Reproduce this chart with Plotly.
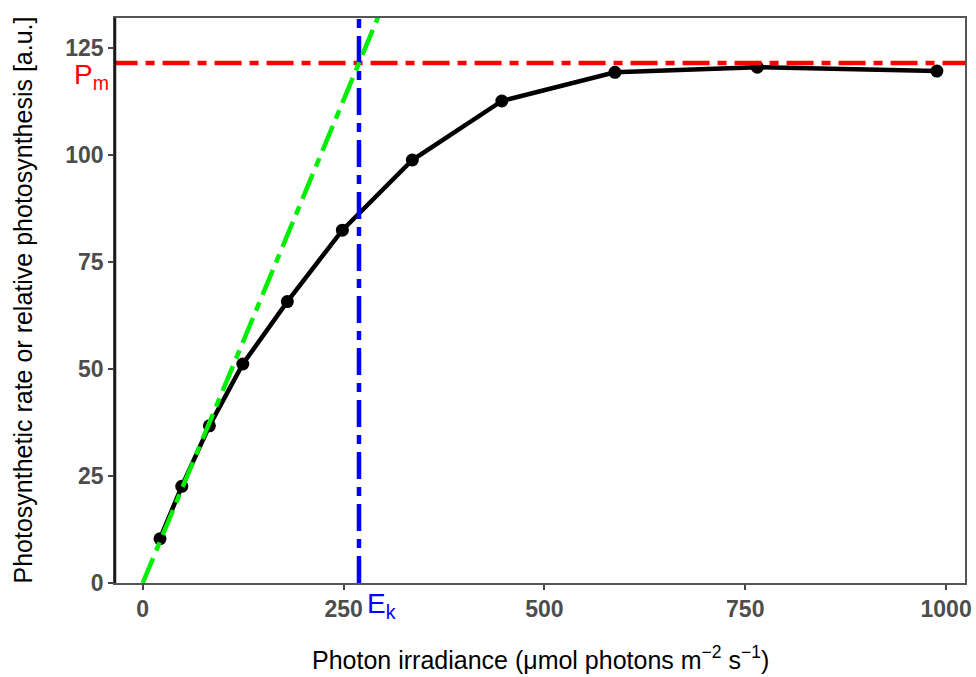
import plotly.graph_objects as go

# Measured photosynthesis-irradiance (P-E) curve
irradiance = [21.5, 48.6, 83, 124.6, 180, 248.5, 335.6, 447, 587.8, 765, 988.5]
photosynthesis = [10.35, 22.6, 36.75, 51.2, 65.8, 82.5, 98.9, 112.7, 119.4, 120.6, 119.7]

# Derived parameters
p_max = 121.6          # maximum photosynthetic rate, Pm
e_k = 269.2            # saturation irradiance, Ek
alpha = p_max / e_k    # initial slope

x_ticks = [0, 250, 500, 750, 1000]
y_ticks = [0, 25, 50, 75, 100, 125]

slope_x = [0, 330]
slope_y = [alpha * v for v in slope_x]

FONT = "Liberation Sans, Arial, sans-serif"
DASHDOT = "27px,8px,9px,8px"

fig = go.Figure()

fig.add_trace(go.Scatter(
    x=irradiance, y=photosynthesis, mode="lines+markers",
    line=dict(color="black", width=4.5),
    marker=dict(color="black", size=13),
    showlegend=False, cliponaxis=False,
))

# Pm: horizontal reference line
fig.add_trace(go.Scatter(
    x=[-40, 1030], y=[p_max, p_max], mode="lines",
    line=dict(color="#FF0000", width=4.5, dash=DASHDOT),
    showlegend=False,
))

# Ek: vertical reference line
fig.add_trace(go.Scatter(
    x=[e_k, e_k], y=[0, 140], mode="lines",
    line=dict(color="#0000FF", width=4.5, dash=DASHDOT),
    showlegend=False,
))

# Initial slope alpha
fig.add_trace(go.Scatter(
    x=slope_x, y=slope_y, mode="lines",
    line=dict(color="#00EE00", width=4.5, dash=DASHDOT),
    showlegend=False,
))

fig.add_annotation(
    x=0, xref="paper", y=p_max, yref="y",
    text="P<sub>m</sub>", showarrow=False,
    xanchor="right", yanchor="top", xshift=-4, yshift=6,
    font=dict(family=FONT, size=28, color="#FF0000"),
)
fig.add_annotation(
    x=e_k, xref="x", y=0, yref="y",
    text="E<sub>k</sub>", showarrow=False,
    xanchor="left", yanchor="top", xshift=6, yshift=-3,
    font=dict(family=FONT, size=28, color="#0000FF"),
)

fig.add_annotation(
    x=0.5, xref="paper", y=0, yref="paper",
    text="Photon irradiance (\u03bcmol photons m<sup>\u22122</sup> s<sup>\u22121</sup>)",
    showarrow=False, xanchor="center", yanchor="middle", yshift=-75,
    font=dict(family=FONT, size=25, color="black"),
)
fig.add_annotation(
    x=0, xref="paper", y=0.5, yref="paper",
    text="Photosynthetic rate or relative photosynthesis [a.u.]",
    showarrow=False, textangle=-90, xanchor="center", yanchor="middle", xshift=-93,
    font=dict(family=FONT, size=25, color="black"),
)

axis_common = dict(
    showgrid=False, zeroline=False, ticks="outside", ticklen=5, tickwidth=1.5,
    automargin=False,
    tickcolor="#444444", tickfont=dict(family=FONT, size=23, color="#4D4D4D", weight="bold"),
)

fig.update_xaxes(
    range=[-34.5, 1023.5], tickvals=x_ticks, ticktext=[str(v) for v in x_ticks],
    showline=True, linecolor="#555555", linewidth=1.5, mirror=True, **axis_common,
)
fig.update_yaxes(
    range=[0, 132.1], tickvals=y_ticks, ticktext=[str(v) for v in y_ticks],
    showline=True, linecolor="#555555", linewidth=1.5, mirror=True, **axis_common,
)

# darker left axis line
fig.add_shape(type="line", xref="paper", yref="paper", x0=0, x1=0, y0=0, y1=1,
              line=dict(color="#1A1A1A", width=2.5))

fig.update_layout(
    width=976, height=677,
    margin=dict(l=115, r=11, t=18, b=94),
    plot_bgcolor="white", paper_bgcolor="white",
    font=dict(family=FONT),
)

fig.write_html("out.html")
